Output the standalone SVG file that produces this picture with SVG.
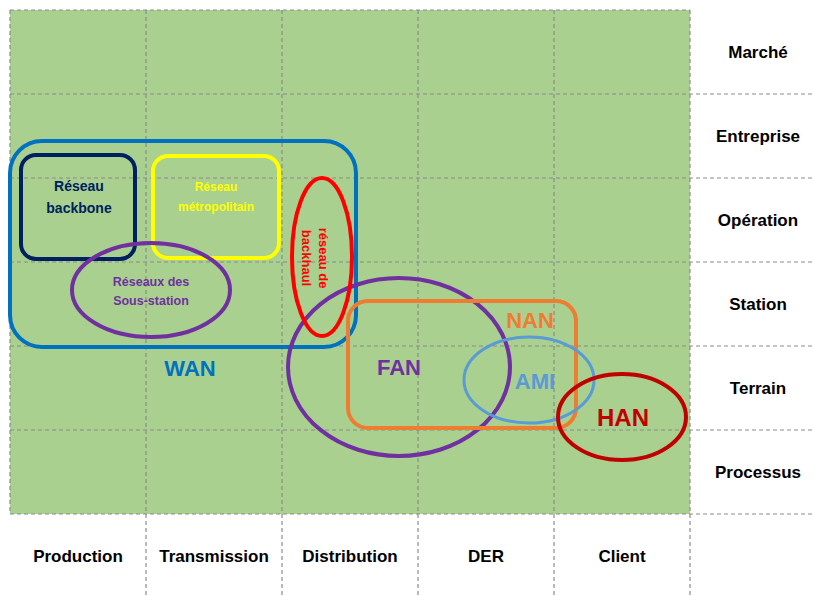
<svg xmlns="http://www.w3.org/2000/svg" width="813" height="596" viewBox="0 0 813 596">
<defs>
<style>
.grid{stroke:#8c8c8c;stroke-width:1.2;stroke-dasharray:4 3;fill:none}
.lbl{font-family:"Liberation Sans",Arial,sans-serif;font-weight:bold;font-size:17px;fill:#000;text-anchor:middle}
.t{font-family:"Liberation Sans",Arial,sans-serif;font-weight:bold;text-anchor:middle}
.shape{fill:none;stroke-width:4}
</style>
<clipPath id="amiClip"><rect x="0" y="0" width="555" height="596"/></clipPath>
</defs>
<rect x="0" y="0" width="813" height="596" fill="#fff"/>
<rect x="10" y="10" width="680" height="504" fill="#A9D08E"/>
<g id="grid">
<path class="grid" d="M10 10H690M10 94H813M10 178H813M10 262H813M10 346H813M10 430H813M10 514H813"/>
<path class="grid" d="M10 10V514M146 10V596M282 10V596M418 10V596M554 10V596M690 10V596"/>
</g>
<g id="row-labels">
<text class="lbl" x="758" y="58">Marché</text>
<text class="lbl" x="758" y="142">Entreprise</text>
<text class="lbl" x="758" y="226">Opération</text>
<text class="lbl" x="758" y="310">Station</text>
<text class="lbl" x="758" y="394">Terrain</text>
<text class="lbl" x="758" y="478">Processus</text>
</g>
<g id="col-labels">
<text class="lbl" x="78" y="562">Production</text>
<text class="lbl" x="214" y="562">Transmission</text>
<text class="lbl" x="350" y="562">Distribution</text>
<text class="lbl" x="486" y="562">DER</text>
<text class="lbl" x="622" y="562">Client</text>
</g>
<g id="wan">
<rect class="shape" x="10" y="141" width="346" height="206" rx="32" stroke="#0070C0"/>
<text class="t" x="190" y="376" font-size="22" fill="#0070C0">WAN</text>
</g>
<g id="backbone">
<rect class="shape" x="21" y="155" width="114" height="104" rx="15" stroke="#002060"/>
<text class="t" x="79" y="191" font-size="14" fill="#002060">Réseau</text>
<text class="t" x="79" y="213" font-size="14" fill="#002060">backbone</text>
</g>
<g id="metro">
<rect class="shape" x="153" y="156" width="126" height="102" rx="15" stroke="#FFFF00"/>
<text class="t" x="216" y="191" font-size="12" fill="#FFFF00">Réseau</text>
<text class="t" x="216" y="211" font-size="12" fill="#FFFF00">métropolitain</text>
</g>
<g id="sous-station">
<ellipse class="shape" cx="151" cy="290" rx="79" ry="47" stroke="#7030A0"/>
<text class="t" x="151" y="286" font-size="12.5" fill="#7030A0">Réseaux des</text>
<text class="t" x="151" y="305" font-size="12.5" fill="#7030A0">Sous-station</text>
</g>
<g id="fan">
<ellipse class="shape" cx="399" cy="367" rx="111" ry="89" stroke="#7030A0"/>
<text class="t" x="399" y="375" font-size="22" fill="#7030A0">FAN</text>
</g>
<g id="backhaul">
<ellipse class="shape" cx="322" cy="257" rx="30" ry="79" stroke="#FF0000"/>
<text class="t" font-size="13" fill="#FF0000" transform="translate(319,258) rotate(90)">réseau de</text>
<text class="t" font-size="13" fill="#FF0000" transform="translate(302,258) rotate(90)">backhaul</text>
</g>
<g id="nan">
<rect class="shape" x="348" y="301" width="228" height="127" rx="20" stroke="#ED7D31"/>
<text class="t" x="530" y="328" font-size="22" fill="#ED7D31">NAN</text>
</g>
<g id="ami">
<ellipse cx="529" cy="380" rx="65" ry="43" fill="none" stroke="#5B9BD5" stroke-width="3"/>
<text class="t" x="535" y="389" font-size="22" fill="#5B9BD5" clip-path="url(#amiClip)">AMI</text>
</g>
<g id="han">
<ellipse class="shape" cx="622" cy="417" rx="64" ry="43" stroke="#C00000"/>
<text class="t" x="623" y="426" font-size="24" fill="#C00000">HAN</text>
</g>
<g id="connectors"/>
</svg>
